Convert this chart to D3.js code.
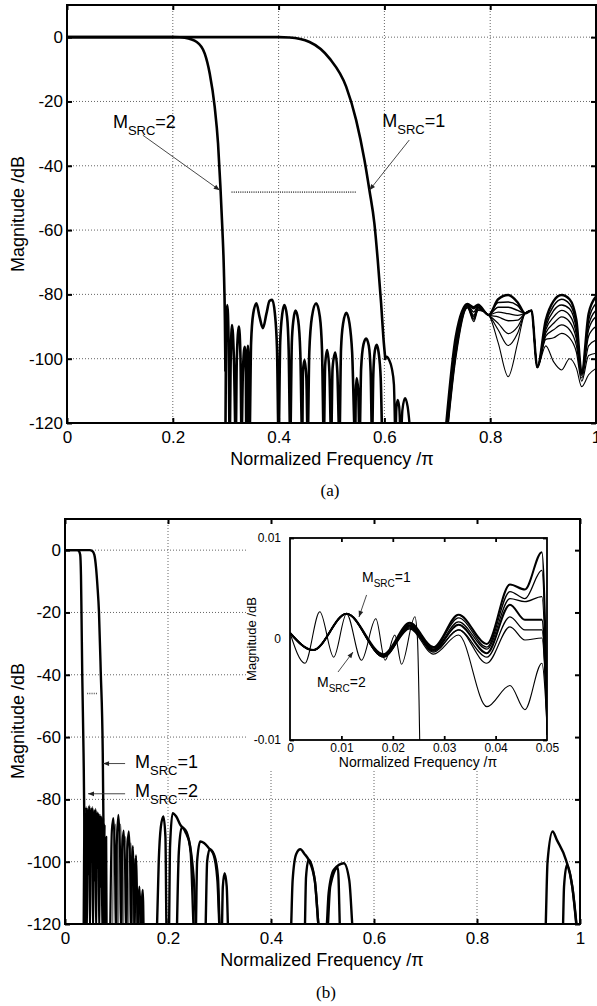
<!DOCTYPE html>
<html>
<head>
<meta charset="utf-8">
<script src="https://cdn.jsdelivr.net/npm/d3@7"></script>
<style>
  body { margin: 0; background: #fff; }
  svg { display: block; }
</style>
</head>
<body>
<svg id="chart" width="597" height="1006"></svg>
<script>
let sans = '"Liberation Sans", Arial, Helvetica, sans-serif';
let serif = '"Liberation Serif", "Times New Roman", serif';

// ---------- shared ticks
let xTicks = [0, 0.2, 0.4, 0.6, 0.8, 1];
let yTicks = [-120, -100, -80, -60, -40, -20, 0];

// ---------- panel (a): [normalized freq, dB]
let aM2Pass = [[0,0],[0.2,0],[0.213,-0.05],[0.2226,-0.2],[0.2453,-1.5],[0.2604,-5.1],[0.2698,-11.3],
  [0.2792,-21.7],[0.2855,-33],[0.29,-46.5],[0.2938,-60],[0.2965,-72],[0.2985,-88],[0.2995,-104]];
let aM1Pass = [[0,0],[0.40,0],[0.4208,-0.1],[0.4585,-1.5],[0.4962,-6.6],[0.5277,-15.4],[0.5466,-25.8],
  [0.5623,-38.2],[0.5717,-47.6],[0.5811,-58],[0.5874,-69.3],[0.5938,-82.8],[0.598,-93.2],[0.6019,-100.4]];
let aM2Stop = [[0.2995,-125],[0.3005,-95],[0.303,-83.3],[0.3055,-95],[0.3075,-125],
  [0.3095,-100],[0.312,-89.5],[0.3155,-100],[0.319,-125],
  [0.321,-100],[0.325,-90],[0.328,-100],[0.330,-125],
  [0.3325,-104],[0.336,-96.3],[0.338,-104],[0.339,-125],
  [0.3405,-104],[0.342,-96],[0.3435,-104],[0.345,-125],
  [0.348,-95],[0.352,-86],[0.358,-82.8],[0.364,-87],[0.3704,-90.5],[0.377,-86],[0.383,-82],[0.388,-81.7],
  [0.393,-86],[0.397,-97],[0.400,-125],
  [0.403,-95],[0.407,-86],[0.411,-83.3],[0.416,-87],[0.419,-97],[0.422,-125],
  [0.425,-95],[0.428,-88],[0.432,-85],[0.437,-88],[0.441,-98],[0.4447,-125],
  [0.446,-104],[0.449,-100.4],[0.4525,-106],[0.455,-125],
  [0.458,-98],[0.463,-87],[0.471,-82.8],[0.478,-87],[0.482,-97],[0.4855,-125],
  [0.488,-102],[0.4918,-97.3],[0.496,-104],[0.4994,-125],
  [0.502,-103],[0.507,-98.1],[0.511,-104],[0.515,-125],
  [0.518,-97],[0.522,-89],[0.528,-85.7],[0.534,-89],[0.539,-98],[0.5447,-125],
  [0.546,-110],[0.5476,-106],[0.5505,-110],[0.553,-125],
  [0.556,-103],[0.5605,-95.5],[0.5654,-93.7],[0.5705,-96],[0.574,-104],[0.5767,-125],
  [0.579,-105],[0.582,-97.5],[0.5855,-95.7],[0.589,-98],[0.593,-106],[0.5957,-125]];
let aM1Stop = [[0.6,-100.4],[0.604,-99.4],[0.609,-100.4],[0.614,-103],[0.618,-108],[0.621,-125],
  [0.6225,-116],[0.625,-112.8],[0.628,-115],[0.631,-125],[0.634,-116],[0.639,-112.3],[0.644,-115],[0.650,-125]];
let aMarker = [[0.311,-48.2],[0.547,-48.2]];

// family of responses above 0.7
let aFamFreq = [0.717,0.735,0.757,0.769,0.777,0.797,0.815,0.834,0.852,0.866,0.878,0.889,0.905,0.920,0.935,0.950,0.963,0.973,0.986,1.0];
let aFam0 = [-120,-93,-83,-84,-83.2,-86.4,-81.5,-80.2,-82.5,-85.9,-85,-102.7,-88,-82,-80.2,-81.5,-88,-104.5,-86,-80.7];
let aFam1 = [-121,-94,-83,-84.5,-83.4,-86.4,-82.5,-82.4,-83.5,-85.9,-85,-102.7,-89,-83.5,-81.5,-83,-89.5,-104.5,-88,-82.8];
let aFam2 = [-122,-95,-83.2,-85.5,-83.6,-86.4,-84,-84,-85,-85.9,-85,-102.7,-90,-85,-83.3,-84.5,-91,-104.6,-89.5,-84.9];
let aFam3 = [-123,-96,-83.4,-86.5,-84,-86.4,-85.5,-86,-86.5,-85.9,-85,-102.7,-91,-87,-85,-86.5,-92.5,-104.8,-91,-86.9];
let aFam4 = [-124,-97,-83.6,-87,-84.2,-86.4,-87,-88.2,-88,-85.9,-85,-102.7,-92,-89,-87,-88.5,-94,-105.2,-93,-90];
let aFam5 = [-125,-98,-83.8,-87.5,-84.5,-86.4,-89,-92.2,-90,-85.9,-85,-102.7,-93,-91,-89.5,-91,-96,-106,-96,-94.2];
let aFam6 = [-126,-99,-84,-88,-84.8,-86.4,-91,-95.9,-92,-85.9,-85,-102.7,-94,-93.5,-92.1,-93.5,-98,-107,-99,-98.3];
let aFam7 = [-127,-100,-84.2,-88.5,-85,-86.4,-95,-105.6,-95,-85.9,-85,-102.7,-96,-101,-103.5,-100,-103,-108.7,-105,-103];

// ---------- panel (b)
let bM2Pass = [[0,0],[0.024,0],[0.027,-0.3],[0.0295,-1.5],[0.031,-8],[0.032,-20],[0.0335,-40],[0.036,-65],[0.038,-95],[0.039,-125]];
let bM1Pass = [[0,0],[0.048,0],[0.053,-0.3],[0.057,-1.5],[0.0605,-6],[0.063,-11.5],[0.066,-20],[0.0694,-39],[0.0733,-65],[0.0745,-85],[0.0759,-125]];
let bM2Stop = [[0.036,-125],[0.038,-84],[0.0395,-110],[0.041,-82.5],[0.0425,-125],[0.044,-83],[0.0455,-104],[0.047,-82],
  [0.0485,-125],[0.050,-83],[0.0515,-100],[0.053,-82.5],[0.0545,-125],[0.056,-83.5],[0.0575,-106],[0.059,-83],
  [0.0605,-125],[0.062,-84],[0.0635,-102],[0.065,-84.5],[0.0665,-125],[0.068,-85],[0.0695,-108],[0.071,-85.5],
  [0.0725,-125],[0.074,-86],[0.0755,-110],[0.077,-88],[0.0785,-125],[0.080,-92],[0.081,-125]];
let bM1Stop = [[0.0875,-125],[0.091,-90],[0.094,-86],[0.097,-100],[0.099,-125],[0.1005,-95],[0.1037,-85],[0.107,-98],
  [0.109,-125],[0.111,-96],[0.114,-90],[0.117,-104],[0.119,-125],[0.121,-96],[0.124,-90.3],[0.127,-105],[0.1285,-125],
  [0.13,-100],[0.132,-95],[0.134,-110],[0.135,-125],[0.1365,-104],[0.138,-98],[0.14,-112],[0.1415,-125],[0.143,-112],
  [0.1446,-108],[0.147,-118],[0.148,-125],[0.1495,-112],[0.151,-109],[0.153,-125]];
let bM1StopGrey = [[0.092,-125],[0.095,-92],[0.098,-88],[0.101,-102],[0.103,-125],[0.105,-92],[0.108,-88],[0.111,-104],
  [0.113,-125],[0.115,-95],[0.118,-92],[0.121,-106],[0.123,-125],[0.125,-98],[0.128,-94],[0.131,-108],[0.1325,-125],
  [0.134,-102],[0.136,-99],[0.139,-115],[0.14,-125],[0.142,-110],[0.144,-109],[0.146,-125],[0.148,-114],[0.15,-112],[0.152,-125]];
let bLobesA = [[0.178,-125],[0.182,-100],[0.186,-89],[0.191,-85.5],[0.195,-92],[0.1975,-125],
  [0.2015,-125],[0.204,-95],[0.209,-84.4],[0.216,-85.5],[0.224,-88.2],[0.236,-90.5],[0.244,-97],[0.2516,-125],
  [0.2535,-125],[0.2565,-100],[0.2626,-93.5],[0.270,-94],[0.279,-95.6],[0.288,-97.5],[0.296,-106],[0.3016,-125],
  [0.304,-125],[0.3065,-108],[0.31,-103.7],[0.314,-108],[0.3177,-125],
  [0.4377,-125],[0.442,-106],[0.449,-97.5],[0.457,-96],[0.465,-97.5],[0.473,-99.4],[0.485,-106],[0.496,-125],
  [0.506,-125],[0.512,-110],[0.522,-102.6],[0.5415,-100.5],[0.552,-106],[0.561,-125],
  [0.932,-125],[0.937,-100],[0.9468,-90.3],[0.955,-93],[0.9727,-99.4],[0.985,-108],[0.9955,-125]];
let bLobesB = [[0.217,-125],[0.221,-97],[0.2265,-89],[0.234,-90.5],[0.243,-95],[0.251,-108],[0.256,-125],
  [0.272,-125],[0.276,-100],[0.281,-96],[0.29,-98],[0.297,-105],[0.3016,-125],
  [0.465,-125],[0.468,-105],[0.473,-99.4],[0.485,-106],[0.496,-125],
  [0.508,-125],[0.515,-108],[0.53,-102],[0.535,-125],
  [0.966,-125],[0.969,-108],[0.9747,-101],[0.985,-108],[0.996,-125]];
let bMarker = [[0.043,-46],[0.064,-46]];

// ---------- inset of (b): passband ripple
let insXTicks = [0, 0.01, 0.02, 0.03, 0.04, 0.05];
let insYTicks = [-0.01, 0, 0.01];
let insM2 = [[0,0.0006],[0.0029,-0.0024],[0.0058,0.0027],[0.0085,-0.0018],[0.011,0.0025],[0.0139,-0.0021],
  [0.0167,0.002],[0.0185,-0.0021],[0.0204,0.0004],[0.0217,-0.0025],[0.0243,0.0022],[0.0248,0],[0.0251,-0.006],[0.0253,-0.012]];
let insFreq = [0,0.0045,0.011,0.0182,0.0233,0.0279,0.0328,0.0383,0.0428,0.0457,0.049,0.0501];
let ins0 = [0.0006,-0.0011,0.0025,-0.0015,0.0016,-0.0008,0.0024,-0.0005,0.0054,0.0049,0.0086,-0.0095];
let ins1 = [0.0006,-0.0011,0.0025,-0.0016,0.0015,-0.0009,0.0021,-0.0008,0.0047,0.0040,0.0068,-0.0095];
let ins2 = [0.0006,-0.0011,0.0025,-0.0016,0.0014,-0.0010,0.0017,-0.0010,0.0040,0.0037,0.0042,-0.0095];
let ins3 = [0.0006,-0.0011,0.0025,-0.0017,0.0013,-0.0011,0.0014,-0.0014,0.0034,0.0019,0.0019,-0.0095];
let ins4 = [0.0006,-0.0011,0.0025,-0.0017,0.0012,-0.0012,0.0009,-0.0018,0.0022,0.0009,0.0009,-0.0095];
let ins5 = [0.0006,-0.0011,0.0025,-0.0018,0.0011,-0.0013,0.0009,-0.0024,0.0012,-0.0001,0.0001,-0.0095];
let ins6 = [0.0006,-0.0011,0.0025,-0.0018,0.0010,-0.0015,0.0004,-0.0067,-0.0046,-0.0070,-0.0024,-0.0095];

let svg = d3.select("#chart");

let defs = svg.append("defs");
defs.append("marker")
  .attr("id", "arrow")
  .attr("viewBox", "0 0 10 10")
  .attr("refX", 10).attr("refY", 5)
  .attr("markerUnits", "userSpaceOnUse")
  .attr("markerWidth", 8).attr("markerHeight", 6)
  .attr("orient", "auto")
  .append("path")
    .attr("d", "M0,1L10,5L0,9Z")
    .attr("fill", "#222");

function zipFreq(freq, vals) {
  return freq.map((f, i) => [f, vals[i]]);
}

function makePanel(id, box, yDomain, xDomain = [0, 1]) {
  let x = d3.scaleLinear().domain(xDomain).range([box.left, box.right]);
  let y = d3.scaleLinear().domain(yDomain).range([box.bottom, box.top]);
  let g = svg.append("g").attr("id", id);
  defs.append("clipPath").attr("id", id + "-clip")
    .append("rect")
    .attr("x", box.left).attr("y", box.top)
    .attr("width", box.right - box.left)
    .attr("height", box.bottom - box.top);
  return {x, y, g, box, id};
}

function drawGrid(p, xs, ys) {
  p.g.append("g").selectAll("line")
    .data(xs).enter().append("line")
      .attr("x1", d => p.x(d)).attr("x2", d => p.x(d))
      .attr("y1", p.box.top).attr("y2", p.box.bottom)
      .attr("stroke", "#666").attr("stroke-width", 1)
      .attr("stroke-dasharray", "1,2");
  p.g.append("g").selectAll("line")
    .data(ys).enter().append("line")
      .attr("y1", d => p.y(d)).attr("y2", d => p.y(d))
      .attr("x1", p.box.left).attr("x2", p.box.right)
      .attr("stroke", "#666").attr("stroke-width", 1)
      .attr("stroke-dasharray", "1,2");
}

function curve(p, data, width, color = "#000") {
  let line = d3.line()
    .x(d => p.x(d[0]))
    .y(d => p.y(d[1]))
    .curve(d3.curveMonotoneX);
  return p.plot.append("path")
    .attr("d", line(data))
    .attr("fill", "none")
    .attr("stroke", color)
    .attr("stroke-width", width)
    .attr("stroke-linejoin", "round");
}

function drawAxes(p, xs, ys, o) {
  let b = p.box;
  let fmt = d => String(d);
  let bottom = p.g.append("g")
    .attr("transform", `translate(0,${b.bottom})`)
    .call(d3.axisBottom(p.x).tickValues(xs).tickSize(-o.tick).tickPadding(o.xpad).tickFormat(fmt));
  let top = p.g.append("g")
    .attr("transform", `translate(0,${b.top})`)
    .call(d3.axisTop(p.x).tickValues(xs).tickSize(-o.tick).tickFormat(""));
  let left = p.g.append("g")
    .attr("transform", `translate(${b.left},0)`)
    .call(d3.axisLeft(p.y).tickValues(ys).tickSize(-o.tick).tickPadding(o.ypad).tickFormat(fmt));
  let right = p.g.append("g")
    .attr("transform", `translate(${b.right},0)`)
    .call(d3.axisRight(p.y).tickValues(ys).tickSize(-o.tick).tickFormat(""));
  [bottom, top, left, right].forEach(a => {
    a.select(".domain").remove();
    a.selectAll(".tick line").attr("stroke", "#000").attr("stroke-width", o.stroke);
    a.selectAll("text").attr("font-family", sans).attr("font-size", o.font).attr("fill", "#000");
  });
  p.g.append("rect")
    .attr("x", b.left).attr("y", b.top)
    .attr("width", b.right - b.left).attr("height", b.bottom - b.top)
    .attr("fill", "none").attr("stroke", "#000").attr("stroke-width", o.stroke);
}

function titleText(g, txt, x, y, size, rotate = false) {
  let t = g.append("text")
    .text(txt)
    .attr("text-anchor", "middle")
    .attr("font-family", sans)
    .attr("font-size", size)
    .attr("fill", "#000");
  if (rotate) {
    t.attr("transform", `translate(${x},${y}) rotate(-90)`);
  } else {
    t.attr("x", x).attr("y", y);
  }
  return t;
}

function msrcLabel(g, num, x, y, size, sub, drop) {
  let t = g.append("text")
    .attr("x", x).attr("y", y)
    .attr("font-family", sans)
    .attr("font-size", size)
    .attr("fill", "#000");
  t.append("tspan").text("M");
  t.append("tspan").text("SRC").attr("font-size", sub).attr("dy", drop);
  t.append("tspan").text("=" + num).attr("dy", -drop);
}

function arrow(g, x1, y1, x2, y2) {
  g.append("line")
    .attr("x1", x1).attr("y1", y1)
    .attr("x2", x2).attr("y2", y2)
    .attr("stroke", "#333").attr("stroke-width", 0.9)
    .attr("marker-end", "url(#arrow)");
}

function markerLine(p, data) {
  p.plot.append("path")
    .attr("d", d3.line().x(d => p.x(d[0])).y(d => p.y(d[1]))(data))
    .attr("stroke", "#555").attr("stroke-width", 1.6)
    .attr("stroke-dasharray", "1,1.2");
}

// ================= panel (a)
let pa = makePanel("pa", {left: 67, right: 596, top: 5, bottom: 423}, [-120, 10]);
drawGrid(pa, xTicks.slice(1, -1), yTicks.slice(1));
pa.plot = pa.g.append("g").attr("clip-path", "url(#pa-clip)");

markerLine(pa, aMarker);
curve(pa, aM2Pass, 2.6);
curve(pa, aM1Pass, 2.6);
curve(pa, aM2Stop, 2.6);
curve(pa, aM1Stop, 2.4);
let aFams = [aFam7, aFam6, aFam5, aFam4, aFam3, aFam2, aFam1, aFam0];
let aWidths = [1.1, 1.2, 1.2, 1.3, 1.3, 1.4, 1.5, 2.4];
aFams.forEach((vals, i) => curve(pa, zipFreq(aFamFreq, vals), aWidths[i]));

drawAxes(pa, xTicks, yTicks, {tick: 5, xpad: 8, ypad: 4, font: 17, stroke: 2});
titleText(pa.g, "Normalized Frequency /\u03c0", 332, 465, 18);
titleText(pa.g, "Magnitude /dB", 24, 214, 18, true);

msrcLabel(pa.g, 2, pa.x(0.0868), pa.y(-28.3), 18, 13, 7);
arrow(pa.g, pa.x(0.1434), pa.y(-30.5), pa.x(0.2887), pa.y(-47.6));
msrcLabel(pa.g, 1, pa.x(0.596), pa.y(-28), 18, 13, 7);
arrow(pa.g, pa.x(0.647), pa.y(-32), pa.x(0.5717), pa.y(-47.6));

svg.append("text")
  .text("(a)")
  .attr("x", 330).attr("y", 496)
  .attr("text-anchor", "middle")
  .attr("font-family", serif)
  .attr("font-size", 17);

// ================= panel (b)
let pb = makePanel("pb", {left: 65, right: 580, top: 519, bottom: 924}, [-120, 10]);
drawGrid(pb, xTicks.slice(1, -1), yTicks.slice(1));
// inset background hides the grid behind it
pb.g.append("rect")
  .attr("x", 248).attr("y", 520)
  .attr("width", 331).attr("height", 251)
  .attr("fill", "#fff");
pb.plot = pb.g.append("g").attr("clip-path", "url(#pb-clip)");

markerLine(pb, bMarker);
curve(pb, bM2Pass, 2.4);
curve(pb, bM1Pass, 2.4);
curve(pb, bM2Stop, 2.2);
curve(pb, bM1StopGrey, 1.6, "#777");
curve(pb, bM1Stop, 2.2);
curve(pb, bLobesB, 2.4);
curve(pb, bLobesA, 2.4);

drawAxes(pb, xTicks, yTicks, {tick: 5, xpad: 8, ypad: 4, font: 17, stroke: 2});
titleText(pb.g, "Normalized Frequency /\u03c0", 322, 966, 18);
titleText(pb.g, "Magnitude /dB", 24, 721, 18, true);

msrcLabel(pb.g, 1, pb.x(0.136), pb.y(-69.8), 18, 13, 7);
arrow(pb.g, pb.x(0.1167), pb.y(-68.5), pb.x(0.0739), pb.y(-68.5));
msrcLabel(pb.g, 2, pb.x(0.136), pb.y(-79.2), 18, 13, 7);
arrow(pb.g, pb.x(0.1167), pb.y(-78.2), pb.x(0.0447), pb.y(-78.2));

svg.append("text")
  .text("(b)")
  .attr("x", 326).attr("y", 998)
  .attr("text-anchor", "middle")
  .attr("font-family", serif)
  .attr("font-size", 17);

// ================= inset
let pi = makePanel("pi", {left: 290, right: 547, top: 538, bottom: 740}, [-0.01, 0.01], [0, 0.05]);
pi.plot = pi.g.append("g").attr("clip-path", "url(#pi-clip)");

let insFams = [ins6, ins5, ins4, ins3, ins2, ins1, ins0];
let insWidths = [1.1, 1.2, 1.2, 2, 1.2, 1.3, 2];
curve(pi, insM2, 1.1);
insFams.forEach((vals, i) => curve(pi, zipFreq(insFreq, vals), insWidths[i]));

drawAxes(pi, insXTicks, insYTicks, {tick: 4, xpad: 3, ypad: 9, font: 12, stroke: 1.8});
pi.g.selectAll(".tick").filter(d => d === 0.05 || d === 0).selectAll("line").remove();
titleText(pi.g, "Normalized Frequency /\u03c0", 418, 767, 14);
titleText(pi.g, "Magnitude /dB", 256, 639, 13, true);

msrcLabel(pi.g, 1, pi.x(0.014), pi.y(0.00564), 14, 10, 5);
arrow(pi.g, pi.x(0.0149), pi.y(0.00436), pi.x(0.01342), pi.y(0.00218));
msrcLabel(pi.g, 2, pi.x(0.00525), pi.y(-0.00475), 14, 10, 5);
arrow(pi.g, pi.x(0.00934), pi.y(-0.00327), pi.x(0.01226), pi.y(-0.00129));
</script>
</body>
</html>
